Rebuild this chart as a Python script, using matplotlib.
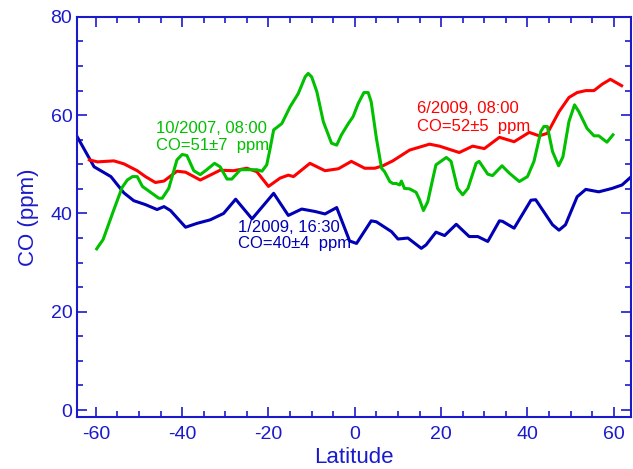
import numpy as np
import matplotlib
matplotlib.use('Agg')
import matplotlib.pyplot as plt
from matplotlib.ticker import MultipleLocator

plt.rcParams['font.family'] = ['Liberation Sans', 'DejaVu Sans']
plt.rcParams['axes.unicode_minus'] = False

# CO profiles vs latitude
lat_blue = [-64.3, -60.4, -56.5, -53.5, -51.2, -48.5, -45.8, -44.2, -42.7, -39.2,
            -36.5, -33.5, -30.4, -27.6, -25.8, -23.8, -18.8, -15.4, -12.3, -9.2,
            -6.9, -4.2, -1.2, 0.4, 3.8, 5.0, 8.5, 10.0, 12.3, 15.4, 16.5, 18.8,
            20.8, 23.5, 26.5, 28.5, 30.8, 33.5, 34.2, 36.9, 40.8, 41.9, 45.8, 47.3,
            48.8, 51.5, 53.5, 56.5, 59.6, 61.9, 63.8]
co_blue = [55.6, 49.5, 47.5, 44.2, 42.6, 41.8, 40.8, 41.4, 40.6, 37.2,
           38.0, 38.7, 40.0, 42.9, 41.0, 38.9, 44.1, 39.6, 40.9, 40.4,
           39.9, 41.2, 34.4, 33.9, 38.5, 38.3, 36.3, 34.8, 35.0, 32.9, 33.6, 36.2,
           35.5, 37.8, 35.3, 35.3, 34.3, 38.5, 38.4, 37.0, 42.7, 42.8, 37.7, 36.6,
           37.7, 43.4, 44.9, 44.4, 45.1, 45.8, 47.3]

lat_red = [-61.5, -59.6, -55.8, -53.5, -50.4, -48.5, -46.2, -44.2, -41.2, -39.2,
           -35.8, -31.2, -28.1, -25.0, -22.7, -20.0, -17.3, -15.4, -14.2, -10.4,
           -6.9, -3.8, -0.8, 2.3, 4.6, 6.5, 8.8, 12.7, 17.3, 19.6, 24.2, 27.3,
           30.0, 33.5, 36.9, 40.4, 42.7, 44.6, 47.3, 49.6, 51.5, 53.5, 55.4, 57.3,
           59.2, 61.8]
co_red = [50.9, 50.5, 50.7, 50.1, 48.7, 47.5, 46.3, 46.6, 48.6, 48.4,
          46.8, 48.8, 48.7, 49.2, 48.5, 45.5, 47.2, 47.8, 47.5, 50.2,
          48.7, 49.1, 50.6, 49.2, 49.2, 49.7, 50.7, 52.9, 54.1, 53.7, 52.4, 53.7,
          53.2, 55.5, 54.6, 56.5, 55.8, 56.3, 60.7, 63.6, 64.6, 65.0, 65.0, 66.3,
          67.3, 66.0]

lat_green = [-59.8, -58.3, -55.8, -53.9, -52.7, -51.5, -50.4, -49.2, -47.3, -45.4,
             -44.6, -43.1, -41.2, -40.0, -38.9, -37.3, -35.8, -34.3, -32.5, -31.2,
             -29.6, -28.5, -26.5, -24.2, -22.7, -21.5, -20.4, -19.6, -18.8, -16.9,
             -15.0, -13.1, -11.5, -10.8, -10.0, -8.8, -7.3, -5.4, -4.2, -3.1,
             -1.5, -0.4, 0.8, 2.1, 3.1, 3.8, 5.0, 6.2, 6.9, 8.1, 8.8, 9.6, 10.4,
             10.8, 11.5, 12.7, 14.2, 15.0, 15.9, 16.9, 18.1, 18.8, 21.2, 22.3,
             23.8, 25.0, 26.2, 28.1, 28.8, 30.8, 31.9, 34.1, 35.8, 38.1, 40.0,
             41.5, 43.1, 43.8, 44.6, 45.8, 47.2, 48.2, 49.6, 50.9, 51.9, 53.8,
             55.4, 56.5, 58.4, 59.8]
co_green = [32.8, 34.7, 40.8, 45.3, 46.8, 47.5, 47.5, 45.5, 44.3, 43.1,
            43.1, 45.1, 50.9, 52.0, 51.8, 48.7, 47.9, 48.9, 50.2, 49.5,
            47.0, 47.0, 48.9, 48.9, 48.9, 48.6, 49.9, 53.3, 57.0, 58.3,
            61.7, 64.4, 67.8, 68.5, 67.8, 64.8, 58.7, 54.3, 53.9, 56.0,
            58.3, 59.7, 62.4, 64.6, 64.6, 62.7, 55.3, 49.2, 48.5, 46.5, 46.1, 46.1, 45.8,
            46.6, 45.1, 45.0, 44.3, 42.8, 40.6, 42.4, 47.2, 49.9, 51.4, 50.6,
            45.1, 43.8, 45.1, 50.2, 50.6, 48.0, 47.7, 49.7, 48.2, 46.5, 47.5,
            50.6, 56.7, 57.7, 57.7, 52.6, 49.7, 51.5, 58.7, 62.1, 60.7, 57.3,
            55.8, 55.8, 54.5, 56.0]

axis_col = '#1a1acc'
blue = '#0000b4'
red = '#ff0000'
green = '#00c000'

fig, ax = plt.subplots(figsize=(6.33, 4.69), dpi=100)
fig.subplots_adjust(left=0.122, right=0.997, top=0.964, bottom=0.11)

ax.plot(lat_blue, co_blue, color=blue, lw=2.2)
ax.plot(lat_red, co_red, color=red, lw=2.2)
ax.plot(lat_green, co_green, color=green, lw=2.2)

ax.text(-46, 57.3, '10/2007, 08:00', color=green, fontsize=12, va='center')
ax.text(-46, 53.9, 'CO=51\u00b17  ppm', color=green, fontsize=12, va='center')
ax.text(14.5, 61.4, '6/2009, 08:00', color=red, fontsize=12, va='center')
ax.text(14.5, 57.7, 'CO=52\u00b15  ppm', color=red, fontsize=12, va='center')
ax.text(-27, 37.2, '1/2009, 16:30', color=blue, fontsize=12, va='center')
ax.text(-27, 33.9, 'CO=40\u00b14  ppm', color=blue, fontsize=12, va='center')

ax.set_xlim(-64.3, 64)
ax.set_ylim(-1.5, 80)
ax.xaxis.set_major_locator(MultipleLocator(20))
ax.xaxis.set_minor_locator(MultipleLocator(5))
ax.yaxis.set_major_locator(MultipleLocator(20))
ax.yaxis.set_minor_locator(MultipleLocator(5))

ax.tick_params(which='both', direction='in', top=True, right=True,
               color=axis_col, labelcolor=axis_col, width=1.2, labelsize=14)
ax.tick_params(which='major', length=7)
ax.tick_params(which='minor', length=4)
ax.tick_params(axis='x', which='major', pad=6)
for s in ax.spines.values():
    s.set_color(axis_col)
    s.set_linewidth(1.5)

ax.set_xlabel('Latitude', color=axis_col, fontsize=16, labelpad=3)
ax.set_ylabel('CO (ppm)', color=axis_col, fontsize=16, labelpad=8)

fig.savefig('out.png', dpi=100)
